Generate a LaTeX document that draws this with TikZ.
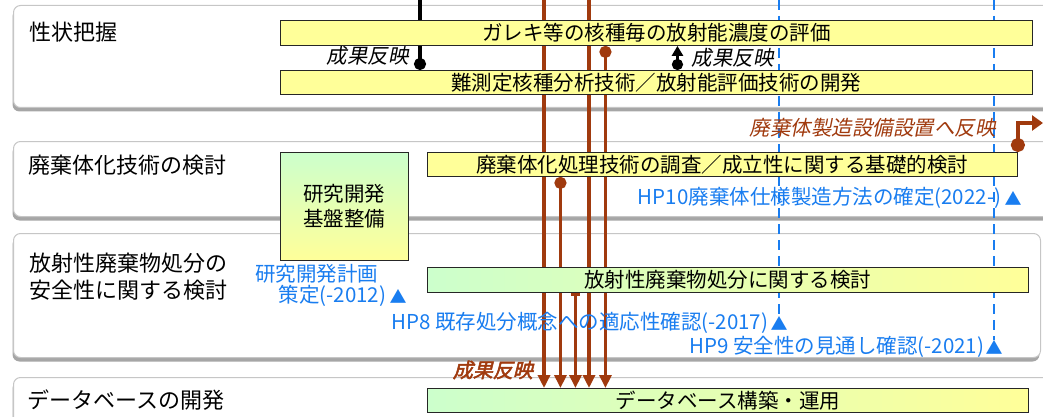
\documentclass[tikz,border=0pt]{standalone}
\usepackage{fontspec}
\setmainfont{Noto Sans CJK JP}
\newfontfamily\slantjp{Noto Sans CJK JP}[FakeSlant=0.2]
\newfontfamily\boldslantjp{Noto Sans CJK JP}[FakeSlant=0.25,FakeBold=2.5]
\usetikzlibrary{arrows.meta}

\definecolor{barylw}{RGB}{255,255,153}
\definecolor{bargrn}{RGB}{204,255,204}
\definecolor{rustbrn}{RGB}{160,58,14}
\definecolor{msblue}{RGB}{25,125,240}

\pgfdeclarelayer{back}
\pgfdeclarelayer{mid}
\pgfsetlayers{back,mid,main}

\tikzset{
  grpbox/.style={draw=gray!45, line width=1pt, fill=white, rounded corners=7pt,
    anchor=north west, inner sep=0pt,
    preaction={fill=gray!70, transform canvas={xshift=-1pt, yshift=-4pt}}},
  grplabel/.style={anchor=west, inner sep=0pt, font=\fontsize{22}{27}\selectfont},
  taskbar/.style={draw=black!85, line width=0.9pt, fill=barylw, anchor=north west,
    inner sep=0pt, font=\fontsize{20.5}{25}\selectfont},
  gradbar/.style={taskbar, left color=bargrn, right color=barylw},
  milestone/.style={text=msblue, inner sep=0pt, font=\fontsize{20.5}{24}\selectfont},
  marker/.style={text=msblue, inner sep=0pt, font=\fontsize{17}{19}\selectfont},
  feedback/.style={draw=rustbrn, line width=3.5pt},
  result/.style={draw=black, line width=3.5pt},
  planline/.style={draw=msblue, line width=2pt, dash pattern=on 10pt off 6pt}
}

\begin{document}
\begin{tikzpicture}[x=1pt, y=-1pt]
    \useasboundingbox (0,0) rectangle (1043,417);

    % Group frames
    \begin{pgfonlayer}{back}
    \begin{scope}
    \clip (0,0) rectangle (1043,417);
    \node[grpbox, minimum width=1047pt, minimum height=102pt] (grp1) at (13,5) {};
    \node[grpbox, minimum width=1047pt, minimum height=75pt] (grp2) at (13,141) {};
    \node[grpbox, minimum width=1027pt, minimum height=124pt] (grp3) at (13,233) {};
    \node[grpbox, minimum width=1047pt, minimum height=60pt] (grp4) at (13,377) {};
    \end{scope}
    \end{pgfonlayer}

    % Group labels
    \node[grplabel] (lbl1) at (29,32) {性状把握};
    \node[grplabel] (lbl2) at (28,165) {廃棄体化技術の検討};
    \node[grplabel, align=left] (lbl3) at (29,277) {放射性廃棄物処分の\\安全性に関する検討};
    \node[grplabel] (lbl4) at (27,400) {データベースの開発};

    % Task bars
    \node[taskbar, minimum width=752pt, minimum height=25pt] (bar1) at (280,20) {ガレキ等の核種毎の放射能濃度の評価};
    \node[taskbar, minimum width=752pt, minimum height=24pt] (bar2) at (280,70) {難測定核種分析技術／放射能評価技術の開発};
    \node[taskbar, minimum width=590pt, minimum height=24pt] (bar3) at (427,152) {廃棄体化処理技術の調査／成立性に関する基礎的検討};
    \node[taskbar, top color=bargrn, bottom color=barylw, align=center,
          minimum width=128pt, minimum height=108pt] (kiban) at (280,152) {研究開発\\基盤整備};
    \node[gradbar, minimum width=601pt, minimum height=25pt] (bar4) at (427,267) {放射性廃棄物処分に関する検討};
    \node[gradbar, minimum width=601pt, minimum height=24pt] (bar5) at (427,388) {データベース構築・運用};

    % Milestones
    \node[marker] (m12) at (398,296) {▲};
    \node[milestone, anchor=east] (hp12b) at ([xshift=-3pt]m12.west) {策定(-2012)};
    \node[milestone, anchor=west] (hp12a) at (255,274) {研究開発計画};
    \node[marker] (m8) at (779,323) {▲};
    \node[milestone, anchor=east] (hp8) at ([xshift=-2pt]m8.west) {HP8 既存処分概念への適応性確認(-2017)};
    \node[marker] (m9) at (994,347) {▲};
    \node[milestone, anchor=east] (hp9) at ([xshift=-1pt]m9.west) {HP9 安全性の見通し確認(-2021)};
    \node[marker] (m10) at (1013,198) {▲};
    \node[milestone, anchor=east] (hp10) at ([xshift=-3pt]m10.west) {HP10廃棄体仕様製造方法の確定(2022-)};

    \begin{pgfonlayer}{mid}
    % Plan lines
    \coordinate (planA) at (779,0);
    \coordinate (planB) at (994,0);
    \draw[planline] (planA) -- (planA |- m8.north);
    \draw[planline] (planB) -- (planB |- m9.north);

    % Result feedback inside characterisation
    \coordinate (resA) at (420,0);
    \draw[result, -{Circle[length=12pt]}] (resA) -- (resA |- bar2.north)
        node[pos=0.8, left=6pt, text=black, font=\slantjp\fontsize{20.5}{24}\selectfont] {成果反映};
    \draw[result, {Circle[length=11pt]}-{Triangle[width=11pt,length=10pt]}] ([xshift=21pt]bar2.north) -- ([xshift=21pt]bar1.south)
        node[midway, right=9pt, text=black, font=\slantjp\fontsize{20.5}{24}\selectfont] {成果反映};

    % Feedback to the database
    \coordinate (fbA) at (544,0);
    \coordinate (fbB) at (589,0);
    \draw[feedback, -{Triangle[width=12pt,length=13pt]}] (fbA) -- (fbA |- bar5.north);
    \draw[feedback, -{Triangle[width=12pt,length=13pt]}] (fbB) -- (fbB |- bar5.north);
    \draw[feedback, {Circle[length=12pt]}-{Triangle[width=12pt,length=13pt]}] ([xshift=-51pt]bar1.south) coordinate (fbC) -- (fbC |- bar5.north);
    \draw[feedback, {Circle[length=12pt]}-{Triangle[width=12pt,length=13pt]}] ([xshift=-162pt]bar3.south) coordinate (fbD) -- (fbD |- bar5.north);
    \draw[feedback, {Bar[width=9pt]}-{Triangle[width=12pt,length=13pt]}] ([xshift=-152.5pt]bar4.south) coordinate (fbE) -- (fbE |- bar5.north);
    \end{pgfonlayer}

    % Feedback to the facility
    \coordinate (fbOut) at (1043,123);
    \draw[feedback, line width=4.5pt, {Circle[length=14pt]}-{Triangle[width=15pt,length=11pt]}] (bar3.north east) |- (fbOut);
    \node[anchor=east, inner sep=0pt, text=rustbrn, font=\slantjp\fontsize{20.5}{24}\selectfont] (facil) at (996,128) {廃棄体製造設備設置へ反映};
    \node[anchor=east, inner sep=0pt, text=rustbrn, font=\boldslantjp\fontsize{20}{24}\selectfont] (dbres) at (533,370) {成果反映};

\end{tikzpicture}
\end{document}
